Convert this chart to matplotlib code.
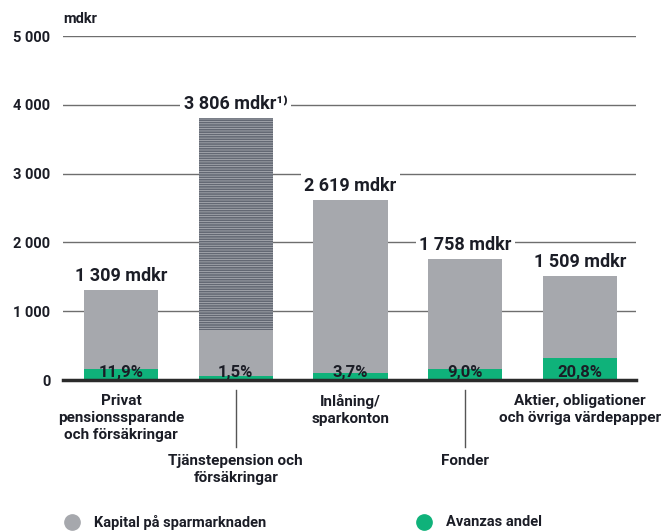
import matplotlib.pyplot as plt
import matplotlib.transforms as mtransforms

plt.rcParams["font.family"] = ["Roboto", "DejaVu Sans"]
plt.rcParams["hatch.linewidth"] = 1.2

# data
categories = [
    "Privat\npensionssparande\noch försäkringar",
    "Tjänstepension och\nförsäkringar",
    "Inlåning/\nsparkonton",
    "Fonder",
    "Aktier, obligationer\noch övriga värdepapper",
]
label_level = [0, 1, 0, 1, 0]  # 0 = directly under axis, 1 = lower with leader line
market_total = [1309, 3806, 2619, 1758, 1509]
value_labels = ["1 309 mdkr", "3 806 mdkr¹⁾", "2 619 mdkr", "1 758 mdkr", "1 509 mdkr"]
avanza_share = [11.9, 1.5, 3.7, 9.0, 20.8]
share_labels = ["11,9%", "1,5%", "3,7%", "9,0%", "20,8%"]
hatched_from = [None, 727, None, None, None]  # part of bar 2 shown striped
yticks = [0, 1000, 2000, 3000, 4000, 5000]
ytick_labels = ["0", "1 000", "2 000", "3 000", "4 000", "5 000"]
legend_labels = ["Kapital på sparmarknaden", "Avanzas andel"]

GRAY = "#a6a8ad"
STRIPE = "#636873"
GREEN = "#0fb27a"
TEXT = "#1b1d26"
W = "bold"

fig = plt.figure(figsize=(6.61, 5.31), dpi=100)
ax = fig.add_axes([63 / 661, 151 / 531, 573 / 661, 344 / 531])

x = list(range(len(categories)))
width = 0.645

ax.bar(x, market_total, width=width, color=GRAY, zorder=2)
for i, start in enumerate(hatched_from):
    if start is not None:
        ax.bar(i, market_total[i] - start, bottom=start, width=width,
               color="#b3b6bb", edgecolor=STRIPE, hatch="-------", linewidth=0, zorder=3)

green = [t * s / 100 for t, s in zip(market_total, avanza_share)]
ax.bar(x, green, width=width, color=GREEN, zorder=4)

ax.set_xlim(-0.5054, 4.488)
ax.set_ylim(0, 5000)
for spine in ax.spines.values():
    spine.set_visible(False)
ax.set_xticks([])
ax.set_yticks(yticks)
ax.set_yticklabels(ytick_labels, fontsize=10.5, color=TEXT, fontweight=W)
ax.tick_params(axis="y", length=0, pad=9)
for yv in yticks[1:]:
    ax.axhline(yv, color="#6e6e6e", lw=1, zorder=1)
ax.axhline(0, color="#2a2a2a", lw=2.5, zorder=6, clip_on=False)

ax.text(0.0, 1.03, "mdkr", transform=ax.transAxes, fontsize=10.5, color=TEXT,
        fontweight=W, ha="left", va="bottom")

# value labels above bars
for i, (tot, lab) in enumerate(zip(market_total, value_labels)):
    ax.annotate(lab, xy=(i, tot), xytext=(0, 6.5), textcoords="offset points",
                ha="center", va="baseline", fontsize=13, color=TEXT,
                fontweight=W, zorder=5,
                bbox=dict(facecolor="white", edgecolor="none", pad=2.5))

# share labels inside bars
for i, lab in enumerate(share_labels):
    ax.annotate(lab, xy=(i, 0), xytext=(0, 2.5), textcoords="offset points",
                ha="center", va="baseline", fontsize=12, color=TEXT,
                fontweight=W, zorder=5)

# category labels
trans = mtransforms.blended_transform_factory(ax.transData, ax.transAxes)
for i, (cat, lvl) in enumerate(zip(categories, label_level)):
    if lvl == 0:
        ax.text(i, -0.04, cat, transform=trans, ha="center", va="top",
                fontsize=11, color=TEXT, fontweight=W, linespacing=1.3)
    else:
        ax.plot([i, i], [-0.03, -0.195], transform=trans, color="#555555",
                lw=1, clip_on=False)
        ax.text(i, -0.215, cat, transform=trans, ha="center", va="top",
                fontsize=11, color=TEXT, fontweight=W, linespacing=1.3)

# legend
for xc, col, lab in [(72, GRAY, legend_labels[0]), (424, GREEN, legend_labels[1])]:
    fig.add_artist(plt.Line2D([xc / 661], [1 - 522 / 531], marker="o",
                              markersize=11, color=col, linestyle="none",
                              transform=fig.transFigure))
    fig.text((xc + 22) / 661, 1 - 522 / 531, lab, ha="left", va="center",
             fontsize=10.5, color=TEXT, fontweight=W)

fig.savefig("out.png", dpi=100)
